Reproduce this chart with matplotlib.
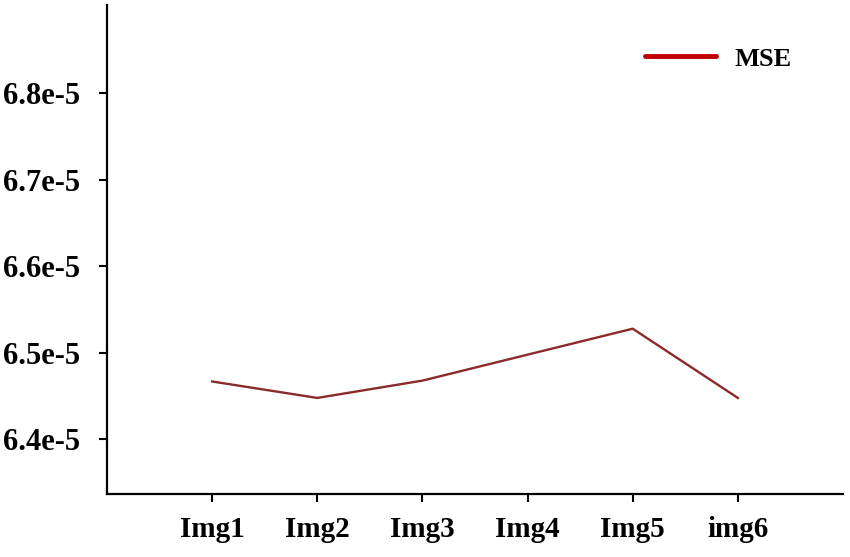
import matplotlib.pyplot as plt

# Data
images = ['Img1', 'Img2', 'Img3', 'Img4', 'Img5', 'img6']
mse = [6.467e-5, 6.448e-5, 6.468e-5, 6.498e-5, 6.528e-5, 6.448e-5]
y_ticks = [6.4e-5, 6.5e-5, 6.6e-5, 6.7e-5, 6.8e-5]
y_labels = ['6.4e-5', '6.5e-5', '6.6e-5', '6.7e-5', '6.8e-5']

plt.rcParams['font.family'] = 'Liberation Serif'
plt.rcParams['font.weight'] = 'bold'

fig = plt.figure(figsize=(8.5, 5.57), dpi=100)
ax = fig.add_axes([107 / 850, 1 - 494 / 557, (843 - 107) / 850, (494 - 5) / 557])

x = list(range(1, len(images) + 1))
ax.plot(x, mse, color='#8B2A2A', linewidth=1.7, label='MSE')

ax.set_xlim(0, 7)
ax.set_ylim(6.337e-5, 6.902e-5)
ax.set_xticks(x)
ax.set_xticklabels(images, fontsize=21, fontweight='bold')
ax.set_yticks(y_ticks)
ax.set_yticklabels(y_labels, fontsize=22, fontweight='bold')

for side in ['top', 'right']:
    ax.spines[side].set_visible(False)
for side in ['left', 'bottom']:
    ax.spines[side].set_linewidth(1.6)
ax.tick_params(axis='x', length=6, width=1.5, pad=10)
ax.tick_params(axis='y', length=6, width=1.5, pad=13)

leg = ax.legend(loc='center right', bbox_to_anchor=(0.93, 0.89), frameon=False,
                fontsize=19, handlelength=2.7, handletextpad=0.7,
                borderpad=0, borderaxespad=0)
for line in leg.get_lines():
    line.set_linewidth(3.5)
    line.set_color('#C00000')
    line.set_solid_capstyle('round')

fig.savefig('out.png', dpi=100)
